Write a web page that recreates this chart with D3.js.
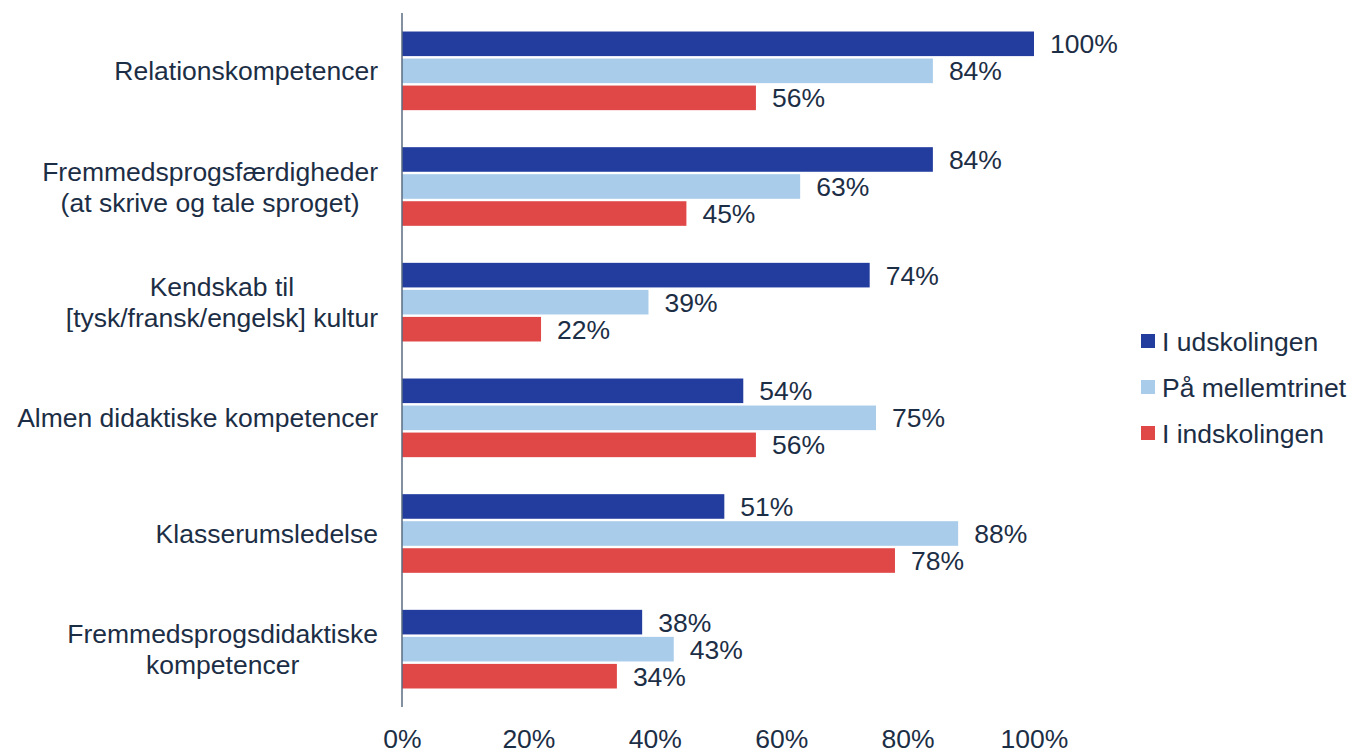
<!DOCTYPE html>
<html>
<head>
<meta charset="utf-8">
<script src="https://cdn.jsdelivr.net/npm/d3@7"></script>
<style>
  html, body { margin: 0; padding: 0; background: #ffffff; }
  svg { display: block; }
  text { font-family: "Liberation Sans", Arial, sans-serif; fill: #1c2e45; }
</style>
</head>
<body>
<svg id="chart" width="1349" height="751"></svg>
<script>
// Competence areas (multi-line labels split on "\n")
const categories = [
  "Relationskompetencer",
  "Fremmedsprogsfærdigheder\n(at skrive og tale sproget)",
  "Kendskab til\n[tysk/fransk/engelsk] kultur",
  "Almen didaktiske kompetencer",
  "Klasserumsledelse",
  "Fremmedsprogsdidaktiske\nkompetencer"
];
const seriesNames = ["I udskolingen", "På mellemtrinet", "I indskolingen"];
const udskolingen = [100, 84, 74, 54, 51, 38];
const mellemtrinet = [84, 63, 39, 75, 88, 43];
const indskolingen = [56, 45, 22, 56, 78, 34];
const xTicks = [0, 20, 40, 60, 80, 100];
const colors = ["#233d9f", "#a9cceb", "#e04747"];

const seriesValues = [udskolingen, mellemtrinet, indskolingen];
const rows = categories.map((c, i) => ({
  category: c,
  values: seriesNames.map((s, j) => ({ series: s, value: seriesValues[j][i], idx: j }))
}));

const svg = d3.select("#chart");
const FONT = 26.5;

const x = d3.scaleLinear().domain([0, 100]).range([402, 1034]);
const y = d3.scaleBand().domain(categories).range([13, 707])
  .paddingInner(0.32).paddingOuter(0.16);
const ySub = d3.scaleBand().domain(seriesNames).range([0, y.bandwidth()]).paddingInner(0.09);

// Bars
const groups = svg.append("g").selectAll("g").data(rows).join("g")
  .attr("transform", d => `translate(0,${y(d.category)})`);

groups.selectAll("rect").data(d => d.values).join("rect")
  .attr("x", x(0))
  .attr("y", d => ySub(d.series))
  .attr("width", d => x(d.value) - x(0))
  .attr("height", ySub.bandwidth())
  .attr("fill", d => colors[d.idx]);

// Value labels
groups.selectAll("text").data(d => d.values).join("text")
  .attr("x", d => x(d.value) + 16)
  .attr("y", d => ySub(d.series) + ySub.bandwidth() / 2)
  .attr("dy", "0.36em")
  .attr("font-size", FONT)
  .text(d => d.value + "%");

// Category axis line
svg.append("line")
  .attr("x1", x(0)).attr("x2", x(0))
  .attr("y1", 13).attr("y2", 707)
  .attr("stroke", "#5a6b80").attr("stroke-width", 1.5);

// Category labels: each block right-aligned to the axis, lines centred within the block
const labelRight = x(0) - 24;
const lineHeight = 31;
const catLabels = svg.append("g").selectAll("text").data(categories).join("text")
  .attr("text-anchor", "middle")
  .attr("font-size", FONT);
catLabels.each(function (d) {
  const lines = d.split("\n");
  const t = d3.select(this);
  const spans = lines.map((ln, k) => t.append("tspan")
    .attr("y", y(d) + y.bandwidth() / 2 + (k - (lines.length - 1) / 2) * lineHeight)
    .attr("dy", "0.36em")
    .text(ln));
  const maxW = d3.max(spans, s => s.node().getComputedTextLength());
  spans.forEach(s => s.attr("x", labelRight - maxW / 2));
});

// Value axis (labels only)
const xAxis = d3.axisBottom(x).tickValues(xTicks).tickSize(0).tickPadding(0)
  .tickFormat(d => d + "%");
const gx = svg.append("g").attr("transform", "translate(0,738.5)").call(xAxis);
gx.select(".domain").remove();
gx.selectAll("text")
  .attr("font-size", FONT)
  .attr("font-family", "Liberation Sans, Arial, sans-serif")
  .attr("fill", "#1c2e45")
  .attr("dy", "0.36em")
  .attr("y", 0);

// Legend
const legend = svg.append("g").selectAll("g").data(seriesNames).join("g")
  .attr("transform", (d, i) => `translate(1141,${341 + i * 46})`);
legend.append("rect")
  .attr("x", 0).attr("y", -7).attr("width", 14).attr("height", 14)
  .attr("fill", (d, i) => colors[i]);
legend.append("text")
  .attr("x", 21).attr("y", 0).attr("dy", "0.36em")
  .attr("font-size", FONT)
  .text(d => d);
</script>
</body>
</html>
